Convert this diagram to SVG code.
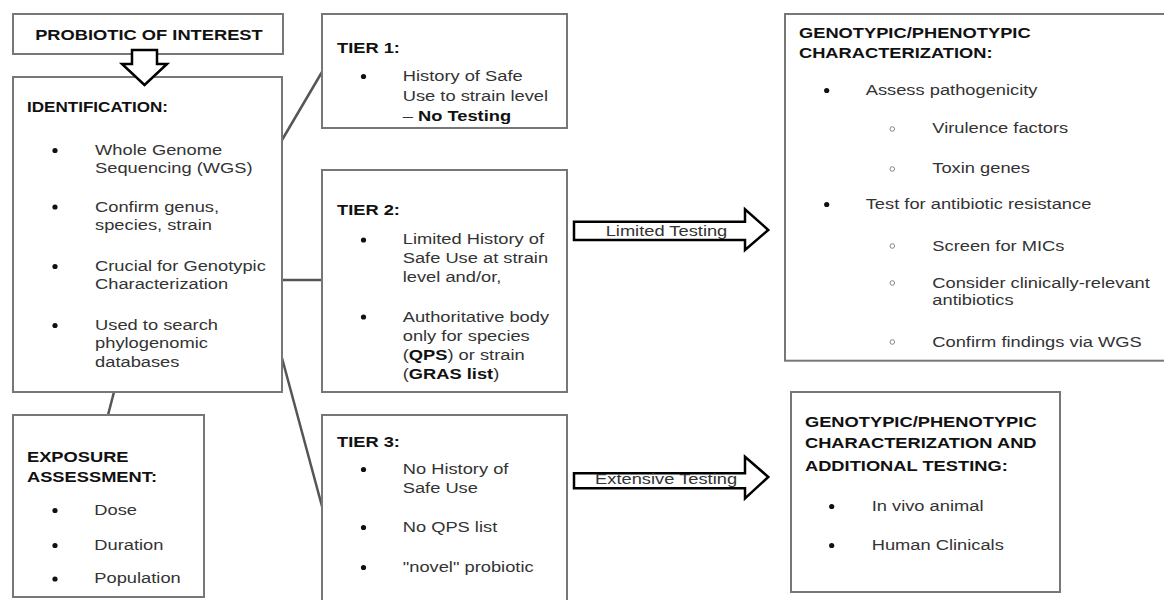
<svg xmlns="http://www.w3.org/2000/svg" width="1164" height="600" viewBox="0 0 1164 600">
<style>
.box{fill:#fff;stroke:#777;stroke-width:2}
.t{font-family:"Liberation Sans",Arial,sans-serif;font-size:15px;fill:#333}
.h{font-family:"Liberation Sans",Arial,sans-serif;font-size:15px;font-weight:bold;fill:#111}
.bd{font-weight:bold;fill:#111}
.b{fill:#111}
.o{fill:#fff;stroke:#888;stroke-width:1}
.conn{stroke:#555;stroke-width:2.5;fill:none}
.arr{fill:#fff;stroke:#000;stroke-width:2.5;stroke-linejoin:miter}
</style>
<rect width="1164" height="600" fill="#fff"/>

<g id="connectors">
<line class="conn" x1="114" y1="392" x2="108" y2="415"/>
<line class="conn" x1="282" y1="140" x2="322" y2="72"/>
<line class="conn" x1="282" y1="280" x2="322" y2="280"/>
<line class="conn" x1="282" y1="358" x2="323" y2="510"/>
</g>

<g id="probiotic">
<rect class="box" x="13" y="14" width="270" height="40"/>
<g transform="scale(1.22,1)"><text class="h" x="122.1" y="40.5" text-anchor="middle">PROBIOTIC OF INTEREST</text></g>
</g>

<g id="identification">
<rect class="box" x="13" y="77" width="269" height="315"/>
<circle class="b" cx="55" cy="150.5" r="2.6"/>
<circle class="b" cx="55" cy="207" r="2.6"/>
<circle class="b" cx="55" cy="266.5" r="2.6"/>
<circle class="b" cx="55" cy="325.5" r="2.6"/>
<g transform="scale(1.22,1)">
<text class="h" x="22.1" y="112.5" style="font-size:14px">IDENTIFICATION:</text>
<text class="t" x="77.9" y="155">Whole Genome</text>
<text class="t" x="77.9" y="173.5">Sequencing (WGS)</text>
<text class="t" x="77.9" y="211.7">Confirm genus,</text>
<text class="t" x="77.9" y="230.3">species, strain</text>
<text class="t" x="77.9" y="271">Crucial for Genotypic</text>
<text class="t" x="77.9" y="289.5">Characterization</text>
<text class="t" x="77.9" y="330">Used to search</text>
<text class="t" x="77.9" y="348.5">phylogenomic</text>
<text class="t" x="77.9" y="367">databases</text>
</g>
</g>

<g id="exposure">
<rect class="box" x="13" y="415" width="191" height="182"/>
<circle class="b" cx="55" cy="510.5" r="2.6"/>
<circle class="b" cx="55" cy="545.5" r="2.6"/>
<circle class="b" cx="55" cy="579" r="2.6"/>
<g transform="scale(1.22,1)">
<text class="h" x="22.1" y="461.7">EXPOSURE</text>
<text class="h" x="22.1" y="481.7">ASSESSMENT:</text>
<text class="t" x="77.3" y="515">Dose</text>
<text class="t" x="77.3" y="550">Duration</text>
<text class="t" x="77.3" y="583.3">Population</text>
</g>
</g>

<g id="tier1">
<rect class="box" x="322" y="14" width="245" height="114"/>
<circle class="b" cx="363.5" cy="76.5" r="2.6"/>
<g transform="scale(1.22,1)">
<text class="h" x="276.2" y="53.3">TIER 1:</text>
<text class="t" x="330.1" y="81">History of Safe</text>
<text class="t" x="330.1" y="101">Use to strain level</text>
<text class="t" x="330.1" y="120.7">– <tspan class="bd">No Testing</tspan></text>
</g>
</g>

<g id="tier2">
<rect class="box" x="322" y="170" width="245" height="222"/>
<circle class="b" cx="363.5" cy="240" r="2.6"/>
<circle class="b" cx="363.5" cy="317" r="2.6"/>
<g transform="scale(1.22,1)">
<text class="h" x="276.2" y="215">TIER 2:</text>
<text class="t" x="330.1" y="244.3">Limited History of</text>
<text class="t" x="330.1" y="263.3">Safe Use at strain</text>
<text class="t" x="330.1" y="281.7">level and/or,</text>
<text class="t" x="330.1" y="321.7">Authoritative body</text>
<text class="t" x="330.1" y="341">only for species</text>
<text class="t" x="330.1" y="360">(<tspan class="bd">QPS</tspan>) or strain</text>
<text class="t" x="330.1" y="379">(<tspan class="bd">GRAS list</tspan>)</text>
</g>
</g>

<g id="tier3">
<rect class="box" x="322" y="415" width="245" height="200"/>
<circle class="b" cx="363.5" cy="469.5" r="2.6"/>
<circle class="b" cx="363.5" cy="527.5" r="2.6"/>
<circle class="b" cx="363.5" cy="567.5" r="2.6"/>
<g transform="scale(1.22,1)">
<text class="h" x="276.2" y="446.7">TIER 3:</text>
<text class="t" x="330.1" y="474">No History of</text>
<text class="t" x="330.1" y="493.3">Safe Use</text>
<text class="t" x="330.1" y="531.7">No QPS list</text>
<text class="t" x="330.1" y="571.7">&quot;novel&quot; probiotic</text>
</g>
</g>

<g id="geno1">
<rect class="box" x="785" y="14" width="400" height="346.7"/>
<circle class="b" cx="826.7" cy="90.5" r="2.6"/>
<circle class="o" cx="892.3" cy="129" r="2.3"/>
<circle class="o" cx="892.3" cy="169" r="2.3"/>
<circle class="b" cx="826.7" cy="204.5" r="2.6"/>
<circle class="o" cx="892.3" cy="246" r="2.3"/>
<circle class="o" cx="892.3" cy="283" r="2.3"/>
<circle class="o" cx="892.3" cy="342" r="2.3"/>
<g transform="scale(1.22,1)">
<text class="h" x="654.9" y="38.3">GENOTYPIC/PHENOTYPIC</text>
<text class="h" x="654.9" y="58.3">CHARACTERIZATION:</text>
<text class="t" x="709.6" y="95">Assess pathogenicity</text>
<text class="t" x="764.2" y="133.3">Virulence factors</text>
<text class="t" x="764.2" y="173.3">Toxin genes</text>
<text class="t" x="709.6" y="209">Test for antibiotic resistance</text>
<text class="t" x="764.2" y="250.7">Screen for MICs</text>
<text class="t" x="764.2" y="287.7">Consider clinically-relevant</text>
<text class="t" x="764.2" y="305">antibiotics</text>
<text class="t" x="764.2" y="346.7">Confirm findings via WGS</text>
</g>
</g>

<g id="geno2">
<rect class="box" x="791" y="392" width="269" height="200"/>
<circle class="b" cx="831.7" cy="506.5" r="2.6"/>
<circle class="b" cx="831.7" cy="545.5" r="2.6"/>
<g transform="scale(1.22,1)">
<text class="h" x="659.8" y="426.7">GENOTYPIC/PHENOTYPIC</text>
<text class="h" x="659.8" y="448.3">CHARACTERIZATION AND</text>
<text class="h" x="659.8" y="470.7">ADDITIONAL TESTING:</text>
<text class="t" x="714.5" y="511">In vivo animal</text>
<text class="t" x="714.5" y="550">Human Clinicals</text>
</g>
</g>

<g id="arrows">
<polygon class="arr" points="132,50 157,50 157,64 167,64 144.5,85 122,64 132,64"/>
<g id="limited-arrow">
<polygon class="arr" points="574,221.7 745,221.7 745,209.3 768.3,230 745,250 745,240 574,240"/>
<g transform="scale(1.22,1)"><text class="t" x="546.3" y="236" text-anchor="middle">Limited Testing</text></g>
</g>
<g id="extensive-arrow">
<polygon class="arr" points="574,473.3 745,473.3 745,456.7 768.3,477 745,498.3 745,488.3 574,488.3"/>
<g transform="scale(1.22,1)"><text class="t" x="546" y="484" text-anchor="middle">Extensive Testing</text></g>
</g>
</g>
</svg>
